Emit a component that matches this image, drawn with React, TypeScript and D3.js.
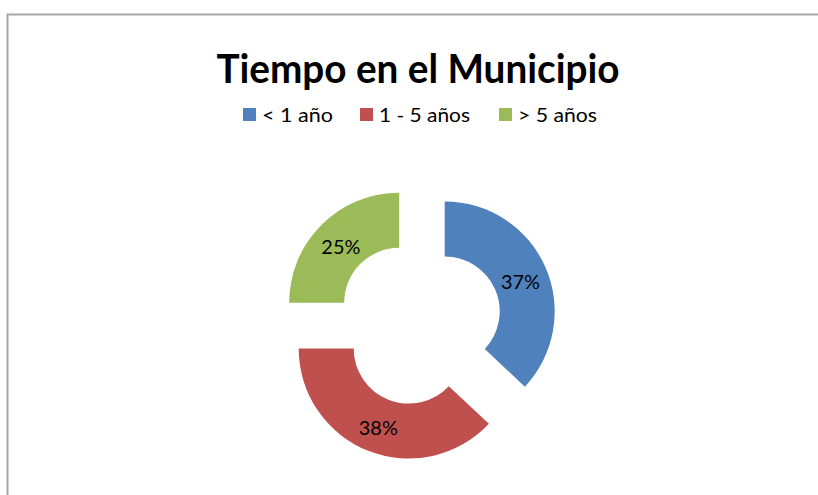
import React from 'react';
import * as d3 from 'd3';

const title = 'Tiempo en el Municipio';
const categories = ['< 1 año', '1 - 5 años', '> 5 años'];
const values = [37, 38, 25];
const colors = ['#4F81BD', '#C0504D', '#9BBB59'];

const W = 818;
const H = 495;
const cx = 419;
const cy = 322.5;
const inner = 55;
const outer = 110;
const explode = 28;

// legend item x positions (square left edge) and text widths
const legendX = [243, 360, 499];
const legendW = [71, 91, 79];

const App = () => {
  const pie = d3
    .pie<number>()
    .value(d => d)
    .sort(null);
  const arc = d3.arc<d3.PieArcDatum<number>>().innerRadius(inner).outerRadius(outer);
  const slices = pie(values);
  const total = d3.sum(values);
  const fmt = d3.format('.0%');

  return (
    <svg
      width={W}
      height={H}
      style={{ position: 'absolute', left: 0, top: 0, background: '#fff' }}
      fontFamily="Lato, 'Noto Sans', sans-serif"
    >
      <rect x={7.5} y={14.5} width={W + 10} height={H + 10} fill="#fff" stroke="#a6a6a6" strokeWidth={2} />
      <text
        x={418}
        y={83}
        textAnchor="middle"
        fontSize={41}
        fontWeight="bold"
        fill="#000"
        textLength={403}
        lengthAdjust="spacingAndGlyphs"
      >
        {title}
      </text>
      <g>
        {categories.map((c, i) => (
          <g key={c}>
            <rect x={legendX[i]} y={108} width={13} height={13} fill={colors[i]} />
            <text
              x={legendX[i] + 19}
              y={122}
              fontSize={20}
              fill="#000"
              textLength={legendW[i]}
              lengthAdjust="spacingAndGlyphs"
            >
              {c}
            </text>
          </g>
        ))}
      </g>
      <g transform={`translate(${cx},${cy})`}>
        {slices.map((d, i) => {
          const mid = (d.startAngle + d.endAngle) / 2;
          const dx = Math.sin(mid) * explode;
          const dy = -Math.cos(mid) * explode;
          const [lx, ly] = arc.centroid(d);
          return (
            <g key={i} transform={`translate(${dx},${dy})`}>
              <path d={arc(d) || ''} fill={colors[i]} />
              <text
                x={lx}
                y={ly + 2}
                textAnchor="middle"
                dominantBaseline="central"
                fontSize={20}
                fill="#000"
                textLength={39}
                lengthAdjust="spacingAndGlyphs"
              >
                {fmt(d.value / total)}
              </text>
            </g>
          );
        })}
      </g>
    </svg>
  );
};

export default App;
